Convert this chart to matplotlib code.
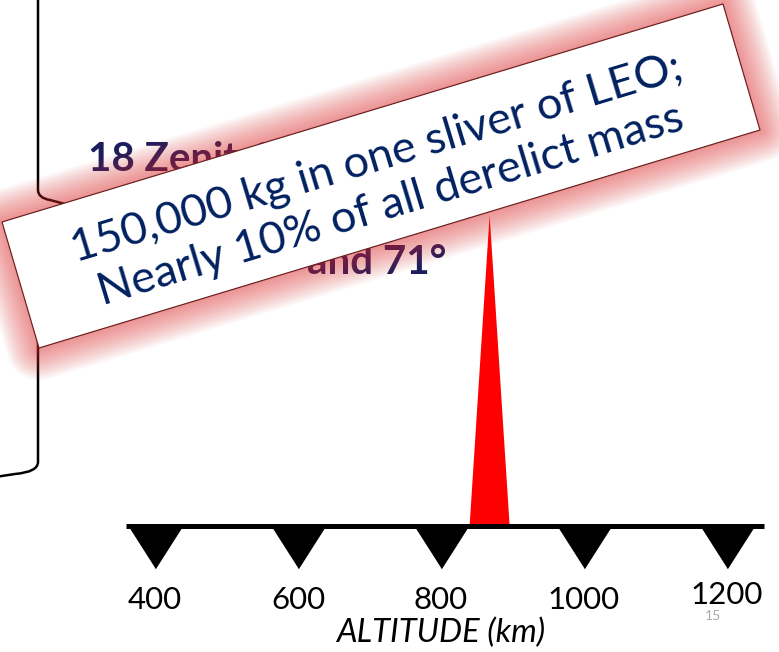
import numpy as np
import matplotlib
matplotlib.use("Agg")
import matplotlib.pyplot as plt
from matplotlib.patches import Polygon
from matplotlib.path import Path
from matplotlib.patches import PathPatch

# data
altitude_ticks = [400, 600, 800, 1000, 1200]
tick_labels = ["400", "600", "800", "1000", "1200"]
spike_altitude_km = [840, 868, 896]
spike_mass_kg = [0, 150000, 0]
axis_span_km = (360, 1252)

callout_lines = ["150,000 kg in one sliver of LEO;", "Nearly 10% of all derelict mass"]
navy = "#002060"
label_navy = "#1c1d5c"

plt.rcParams['font.family'] = ['Lato', 'DejaVu Sans']

W, H = 779, 652
fig = plt.figure(figsize=(W / 100, H / 100), dpi=100)
PT = 0.72  # points per pixel

# data axes over the whole figure
ax = fig.add_axes([0, 0, 1, 1])
kx = 0.715  # px per km
ax.set_xlim(400 - 155 / kx, 400 + (W - 155) / kx)
ky = 150000 / (526 - 215)
ax.set_ylim(-(H - 526) * ky, 526 * ky)
ax.axis("off")

ax.fill(spike_altitude_km, spike_mass_kg, color="#ff0000", lw=0, zorder=2)
ax.hlines(0, *axis_span_km, color="black", lw=5 * PT, zorder=3)
tri = [(-0.51, 0), (0.51, 0), (0, -0.8)]
ax.plot(altitude_ticks, [0] * len(altitude_ticks), ls="none", marker=tri,
        ms=60.5, color="black", zorder=3)
for x, lab in zip(altitude_ticks, tick_labels):
    dy = -74 if lab != "1200" else -69
    ax.annotate(lab, (x, 0), xytext=(0, dy * PT), textcoords="offset points",
                ha="center", va="center", fontsize=22.5, color="black")
ax.annotate("ALTITUDE (km)", (800, 0), xytext=(0, -107 * PT), textcoords="offset points",
            ha="center", va="center", fontsize=23.5, style="italic", color="black")
# slide number, tucked just under the 1200 label
ax.annotate("15", (1200, 0), xytext=(-14 * PT, -90 * PT), textcoords="offset points",
            ha="center", va="center", fontsize=10, color="#aaaaaa")

# overlay axes in pixel coordinates for the slide decorations
ov = fig.add_axes([0, 0, 1, 1], zorder=5)
ov.set_xlim(0, W)
ov.set_ylim(H, 0)
ov.axis("off")
ov.patch.set_alpha(0)

# brace on the left
verts = [(38, -5), (38, 190), (38, 198), (50, 200), (65, 204)]
codes = [Path.MOVETO, Path.LINETO, Path.CURVE3, Path.CURVE3, Path.LINETO]
ov.add_patch(PathPatch(Path(verts, codes), fill=False, lw=2.5 * PT, color="black", zorder=1))
verts = [(38, 340), (38, 462), (38, 472), (15, 474), (-5, 477)]
ov.add_patch(PathPatch(Path(verts, codes), fill=False, lw=2.5 * PT, color="black", zorder=1))

# partially hidden labels (under the callout)
ov.text(88, 171, "18 Zenit-2", fontsize=29, fontweight="bold", color=label_navy,
        ha="left", va="baseline", zorder=1)
ov.text(446, 274, "and 71°", fontsize=29, fontweight="bold", color=label_navy,
        ha="right", va="baseline", zorder=1)

# callout box with red glow
corners = [(2, 222), (723, 4), (760, 130), (39, 348)]
for pad in np.linspace(2, 32, 15):
    ov.add_patch(Polygon(corners, closed=True, facecolor="none", edgecolor="#e03030",
                         lw=2 * pad * PT, alpha=0.045, joinstyle="round", zorder=2))
ov.add_patch(Polygon(corners, closed=True, facecolor="white", edgecolor="#6b1f1f",
                     lw=1.2 * PT, zorder=3))
ov.text(384, 182, "\n".join(callout_lines), rotation=16.8, rotation_mode="anchor",
        ha="center", va="center", multialignment="center", fontsize=32.5,
        color=navy, linespacing=1.22, zorder=4)

fig.savefig("out.png", dpi=100)
